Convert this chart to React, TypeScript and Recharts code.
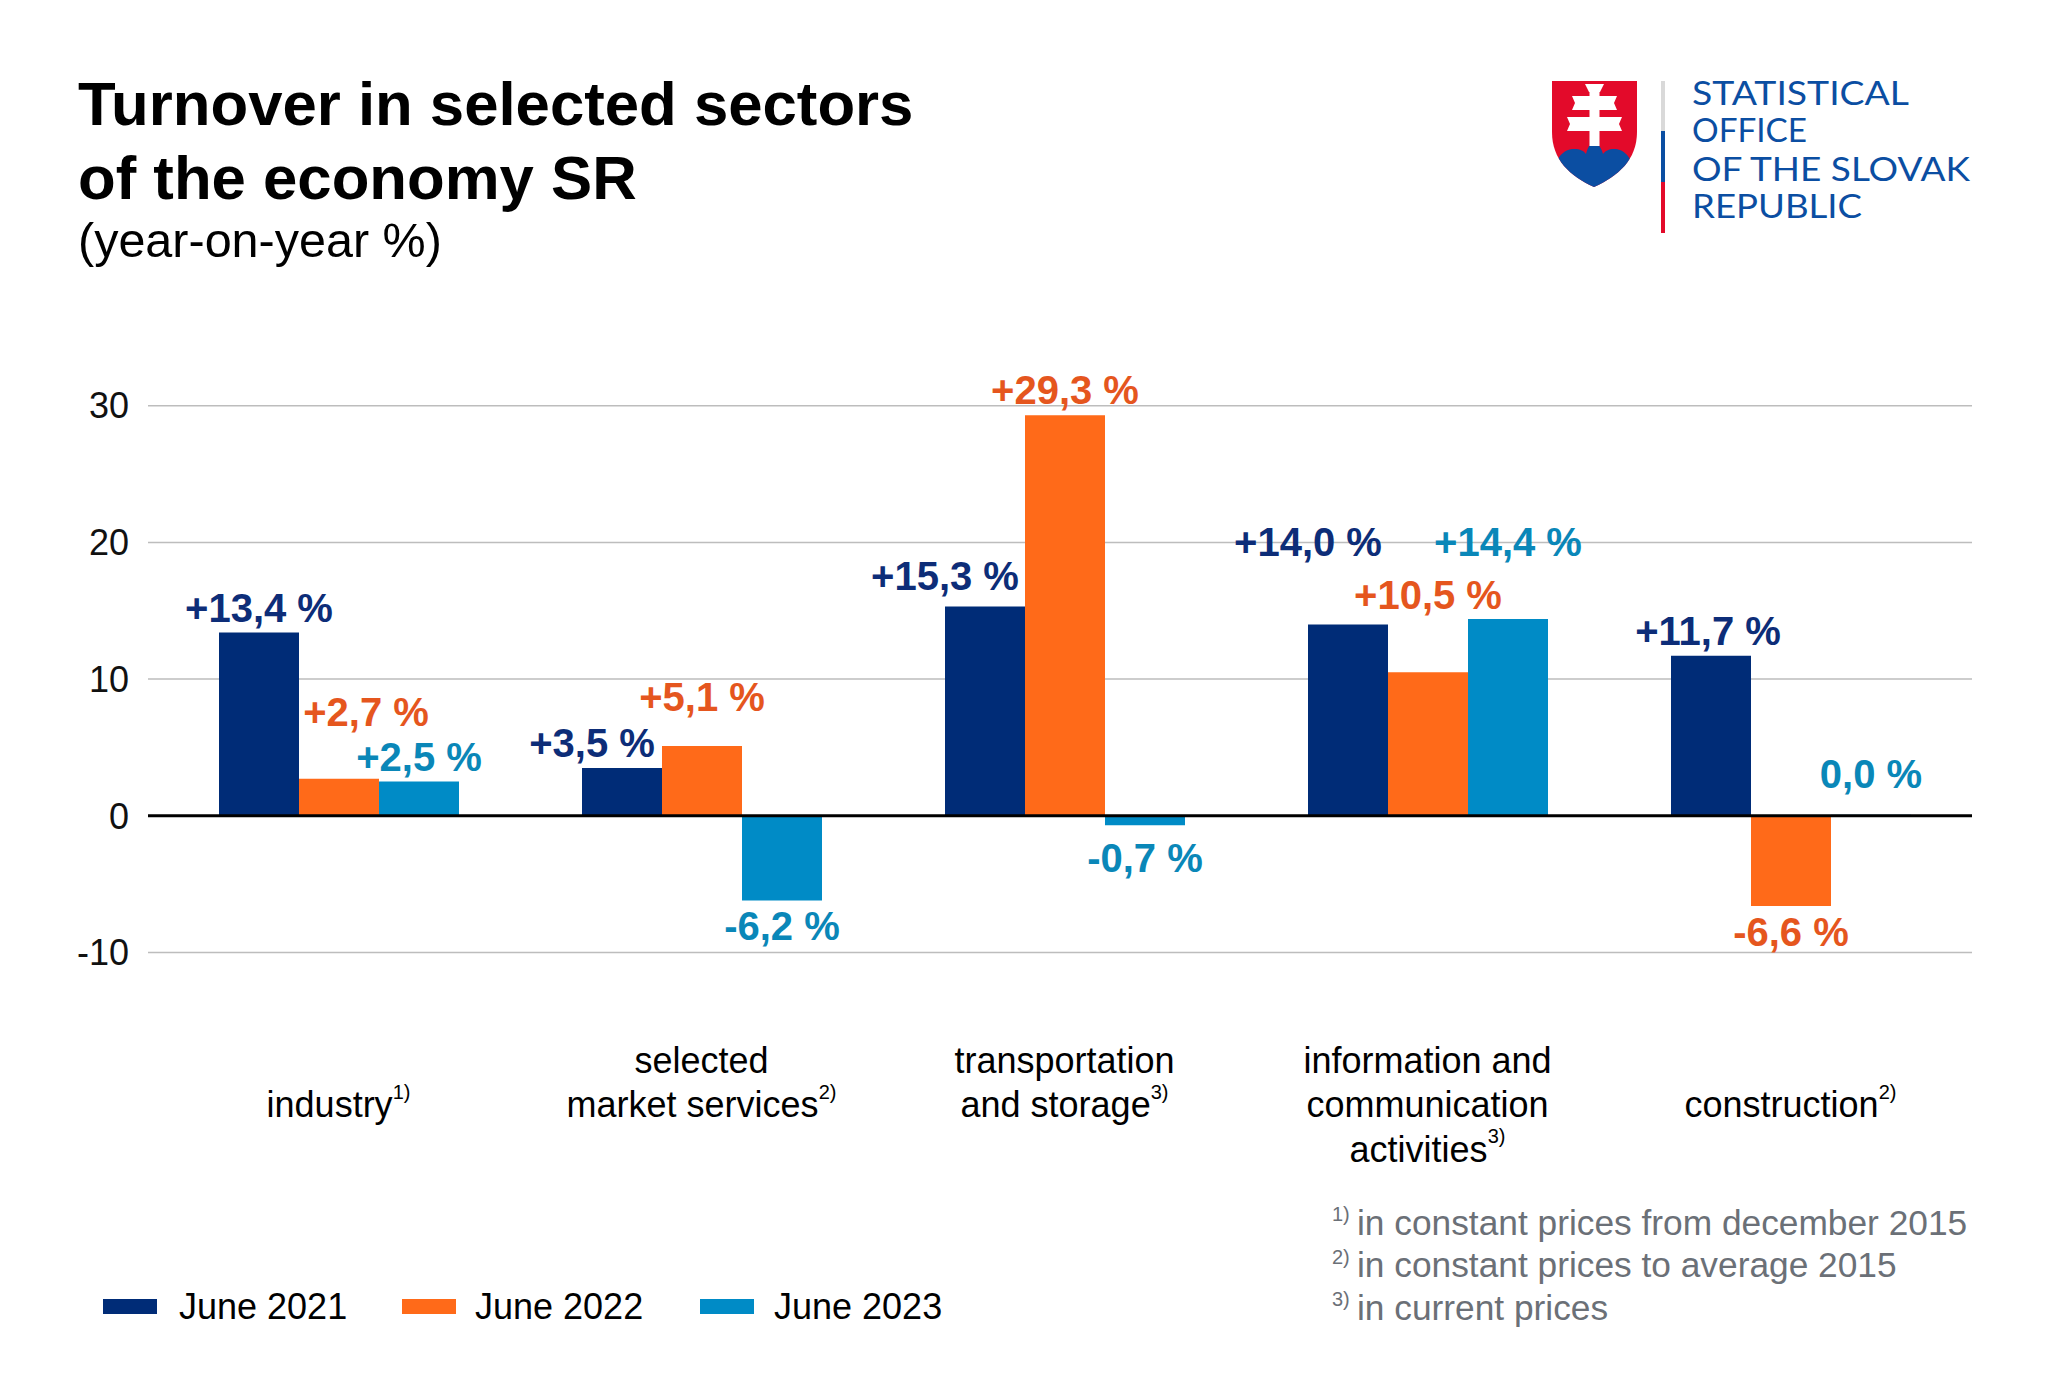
import React from "react";
import { BarChart, Bar, XAxis, YAxis, CartesianGrid, ReferenceLine, LabelList } from "recharts";

// ---------- data ----------
const categories = [
  "industry",
  "selected market services",
  "transportation and storage",
  "information and communication activities",
  "construction",
];
const categoryLines = [
  ["", "industry"],
  ["selected", "market services"],
  ["transportation", "and storage"],
  ["information and", "communication", "activities"],
  ["", "construction"],
];
const categoryNotes = ["1)", "2)", "3)", "3)", "2)"];

const june2021 = [13.4, 3.5, 15.3, 14.0, 11.7];
const june2022 = [2.7, 5.1, 29.3, 10.5, -6.6];
const june2023 = [2.5, -6.2, -0.7, 14.4, 0.0];

const seriesKeys = ["june2021", "june2022", "june2023"];
const seriesNames = ["June 2021", "June 2022", "June 2023"];
const seriesColors = ["#002C77", "#FF6A19", "#008BC6"];
const labelColors = ["#0D2D78", "#E5561E", "#0A87B8"];

const yTicks = [-10, 0, 10, 20, 30];

const titleLines = ["Turnover in selected sectors", "of the economy SR"];
const subtitle = "(year-on-year %)";
const logoLines = ["STATISTICAL", "OFFICE", "OF THE SLOVAK", "REPUBLIC"];
const footnotes = [
  ["1)", "in constant prices from december 2015"],
  ["2)", "in constant prices to average 2015"],
  ["3)", "in current prices"],
];

// label nudges (dx, dy) per series per category, to avoid overlaps as in the original
const labelNudges = [
  [[0, 0], [-30, 0], [-40, -6], [-40, -57], [-3, 0]],
  [[27, -42], [0, -24], [0, 0], [0, -52], [0, 0]],
  [[0, 0], [0, 0], [0, 7], [0, -52], [0, -16]],
];

const seriesValues = [june2021, june2022, june2023];
const data = categories.map((c, i) => ({
  category: c,
  june2021: june2021[i],
  june2022: june2022[i],
  june2023: june2023[i],
}));

const FONT = "'Liberation Sans', Arial, Helvetica, sans-serif";

const fmt = (v: number) => {
  const s = Math.abs(v).toFixed(1).replace(".", ",");
  if (v > 0) return "+" + s + " %";
  if (v < 0) return "-" + s + " %";
  return s + " %";
};

const CategoryTick = (props: any) => {
  const { x, y, payload } = props;
  const i = categories.indexOf(payload.value);
  const lines = categoryLines[i] || [];
  return (
    <g>
      {lines.map((ln, k) => (
        <text
          key={k}
          x={x}
          y={y + 108 + k * 44.5}
          textAnchor="middle"
          dominantBaseline="central"
          fontSize={36}
          fontFamily={FONT}
          fill="#000"
        >
          {ln}
          {k === lines.length - 1 ? (
            <tspan fontSize={20} dy={-13}>
              {categoryNotes[i]}
            </tspan>
          ) : null}
        </text>
      ))}
    </g>
  );
};

const makeLabel = (s: number) => (props: any) => {
  const { x, y, width, height, value } = props;
  let idx = props.index;
  if (idx === undefined || idx === null) idx = seriesValues[s].indexOf(value);
  const v = Number(value);
  const top = Math.min(y, y + height);
  const bottom = Math.max(y, y + height);
  const nudge = (labelNudges[s] && labelNudges[s][idx]) || [0, 0];
  const cx = x + width / 2 + nudge[0];
  const cy = (v < 0 ? bottom + 26 : top - 25) + nudge[1];
  return (
    <text
      x={cx}
      y={cy}
      textAnchor="middle"
      dominantBaseline="central"
      fontSize={40}
      fontWeight="bold"
      fontFamily={FONT}
      fill={labelColors[s]}
    >
      {fmt(v)}
    </text>
  );
};

const Overlay = () => (
  <svg
    width={2048}
    height={1396}
    style={{ position: "absolute", left: 0, top: 0, pointerEvents: "none" }}
  >
    {/* title */}
    <text x={78} y={125} fontSize={61.7} fontWeight="bold" fontFamily={FONT} fill="#000">
      {titleLines[0]}
    </text>
    <text x={78} y={199} fontSize={61.7} fontWeight="bold" fontFamily={FONT} fill="#000">
      {titleLines[1]}
    </text>
    <text x={78} y={257} fontSize={48.5} fontFamily={FONT} fill="#000">
      {subtitle}
    </text>

    {/* logo */}
    <defs>
      <clipPath id="shieldClip">
        <path d="M1552,81 H1637 V132 C1637,160 1618,176 1594,187 C1570,176 1552,160 1552,132 Z" />
      </clipPath>
    </defs>
    <path d="M1552,81 H1637 V132 C1637,160 1618,176 1594,187 C1570,176 1552,160 1552,132 Z" fill="#E30A2A" />
    <g clipPath="url(#shieldClip)">
      <path
        d="M1554,172 C1556,156 1565,149 1574,149 C1580,149 1584,151 1586,154 C1588,147 1590,143 1594,143 C1598,143 1601,147 1603,154 C1605,151 1609,149 1614,149 C1623,149 1632,156 1634,172 L1640,200 L1548,200 Z"
        fill="#0B4EA2"
      />
    </g>
    <rect x={1589.5} y={86} width={10} height={60} fill="#fff" />
    <path d="M1585,84 H1604 L1600,92 H1589 Z" fill="#fff" />
    <path d="M1572,96 L1575,103 L1572,110 H1617 L1614,103 L1617,96 Z" fill="#fff" />
    <path d="M1567,117 L1570,124 L1567,131 H1622 L1619,124 L1622,117 Z" fill="#fff" />
    <rect x={1661} y={81} width={4} height={50} fill="#D9D9D9" />
    <rect x={1661} y={131} width={4} height={51} fill="#0B4EA2" />
    <rect x={1661} y={182} width={4} height={51} fill="#E30A2A" />
    {logoLines.map((ln, k) => (
      <text
        key={k}
        x={1692}
        y={[105, 142, 181, 218][k]}
        fontSize={33}
        fontFamily="Lato, 'Open Sans', sans-serif"
        fill="#0B4EA2"
        textLength={[217, 115, 278, 170][k]}
        lengthAdjust="spacingAndGlyphs"
      >
        {ln}
      </text>
    ))}

    {/* legend */}
    {seriesNames.map((n, k) => (
      <g key={n}>
        <rect x={[103, 402, 700][k]} y={1299} width={54} height={15} fill={seriesColors[k]} />
        <text
          x={[179, 475, 774][k]}
          y={1306}
          dominantBaseline="central"
          fontSize={36}
          fontFamily={FONT}
          fill="#000"
        >
          {n}
        </text>
      </g>
    ))}

    {/* footnotes */}
    {footnotes.map((f, k) => (
      <g key={k}>
        <text x={1332} y={1222 + k * 42.5 - 8} dominantBaseline="central" fontSize={20} fontFamily={FONT} fill="#6B7077">
          {f[0]}
        </text>
        <text x={1357} y={1222 + k * 42.5} dominantBaseline="central" fontSize={35.3} fontFamily={FONT} fill="#6B7077">
          {f[1]}
        </text>
      </g>
    ))}
  </svg>
);

export default function App() {
  return (
    <div
      style={{
        position: "fixed",
        left: 0,
        top: 0,
        width: 2048,
        height: 1396,
        background: "#fff",
        overflow: "hidden",
      }}
    >
      <BarChart
        width={2048}
        height={1396}
        data={data}
        barGap={0}
        margin={{ top: 405.7, right: 76, bottom: 243.6, left: 48 }}
      >
        <CartesianGrid horizontal vertical={false} stroke="#BDBDBD" strokeWidth={1.5} />
        <XAxis
          dataKey="category"
          axisLine={false}
          tickLine={false}
          tickSize={0}
          tickMargin={0}
          height={200}
          interval={0}
          padding={{ left: 9, right: 0 }}
          tick={<CategoryTick />}
        />
        <YAxis
          width={100}
          domain={[-10, 30]}
          ticks={yTicks}
          interval={0}
          axisLine={false}
          tickLine={false}
          tickSize={0}
          tickMargin={19}
          tick={{ fontSize: 36, fill: "#111", fontFamily: FONT }}
        />
        {seriesKeys.map((k, s) => (
          <Bar
            key={k}
            dataKey={k}
            name={seriesNames[s]}
            fill={seriesColors[s]}
            barSize={80}
            minPointSize={1}
            isAnimationActive={false}
          >
            <LabelList dataKey={k} content={makeLabel(s)} />
          </Bar>
        ))}
        <ReferenceLine y={0} stroke="#000" strokeWidth={3} />
      </BarChart>
      <Overlay />
    </div>
  );
}
